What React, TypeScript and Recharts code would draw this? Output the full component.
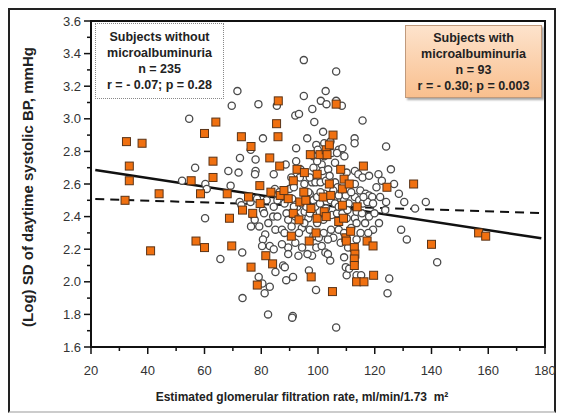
import React from "react";
import { ScatterChart, Scatter, XAxis, YAxis, ReferenceLine } from "recharts";

// eGFR (x) and log SD of daytime SBP (y)
const withoutMicro: [number, number][] = [
  [95, 3.36], [106.4, 3.29], [71.6, 3.17], [102.7, 3.17], [95, 3.14], [69.6, 3.08], [79, 3.09],
  [85.5, 3.08], [101, 3.11], [103, 3.09], [106.4, 3.11], [108.4, 3.08], [98, 3.06], [92, 3.02],
  [93.3, 3.03], [54.6, 3.0], [98.7, 2.98], [115.7, 2.99], [80.6, 2.88], [96.2, 2.88], [101.8, 2.92],
  [112.9, 2.88], [112.9, 2.85], [92.3, 2.82], [99.4, 2.84], [99.9, 2.81], [104.4, 2.86], [107.3, 2.81],
  [124, 2.83], [72.5, 2.76], [76.3, 2.81], [78, 2.75], [92.3, 2.74], [109.3, 2.77], [56.7, 2.7],
  [68.4, 2.68], [72, 2.67], [78, 2.68], [77.8, 2.66], [84.4, 2.66], [88.6, 2.72], [90.6, 2.64],
  [93.8, 2.69], [98.4, 2.7], [101.3, 2.72], [101.6, 2.68], [103.6, 2.69], [106, 2.73], [110.1, 2.67],
  [113, 2.68], [114.2, 2.66], [115.7, 2.64], [118, 2.65], [121.3, 2.66], [125.7, 2.69], [52.1, 2.62],
  [60.3, 2.6], [60.8, 2.57], [69.2, 2.59], [84.8, 2.57], [86.4, 2.55], [89.9, 2.57], [93.6, 2.64],
  [95.2, 2.6], [97.9, 2.61], [99.1, 2.61], [100.9, 2.61], [106, 2.61], [106.9, 2.58], [113, 2.6],
  [114.9, 2.56], [116.8, 2.54], [118, 2.53], [119.1, 2.52], [126.8, 2.6], [128.5, 2.54], [130.4, 2.49],
  [138, 2.49], [134.2, 2.45], [72.4, 2.49], [73, 2.47], [76.2, 2.49], [78.5, 2.51], [80.6, 2.44],
  [84.4, 2.46], [88.2, 2.48], [90.9, 2.51], [92.7, 2.46], [94.3, 2.48], [97.1, 2.54], [98.4, 2.5],
  [99, 2.46], [100.7, 2.48], [102.2, 2.54], [104.5, 2.5], [106, 2.48], [108, 2.51], [109.2, 2.5],
  [110.8, 2.48], [113, 2.52], [114.5, 2.5], [115.8, 2.48], [117.4, 2.49], [119.4, 2.48], [124, 2.49],
  [123.7, 2.44], [60.2, 2.39], [77, 2.41], [77.7, 2.38], [76.4, 2.34], [81, 2.42], [84.2, 2.4],
  [88.9, 2.42], [92.1, 2.4], [95.3, 2.43], [96.6, 2.39], [98.2, 2.42], [99.7, 2.36], [101.9, 2.38],
  [104.8, 2.41], [106.7, 2.42], [108.6, 2.42], [110.1, 2.39], [113, 2.39], [116.6, 2.36], [121.5, 2.36],
  [119.4, 2.32], [117.7, 2.3], [115, 2.3], [111.7, 2.33], [129.3, 2.32], [131.3, 2.26], [85, 2.32],
  [87.3, 2.32], [88.2, 2.3], [94.3, 2.33], [90.7, 2.34], [97.1, 2.32], [102, 2.3], [104.6, 2.32],
  [105.4, 2.27], [81.4, 2.29], [80.6, 2.26], [80.3, 2.22], [83, 2.22], [84.4, 2.2], [89.5, 2.21],
  [92, 2.24], [89.5, 2.17], [93.1, 2.16], [97.9, 2.16], [99.4, 2.21], [101.3, 2.22], [102.6, 2.18],
  [103.5, 2.17], [104.3, 2.13], [108, 2.24], [110.6, 2.21], [109.2, 2.15], [65.6, 2.14], [73.3, 2.18],
  [87.7, 2.1], [88.3, 2.09], [85, 2.06], [79.1, 2.03], [80.4, 1.99], [81.2, 1.93], [83, 1.97],
  [88.8, 2.01], [91.2, 2.03], [96.8, 2.07], [99.3, 1.95], [109.8, 2.09], [110.1, 2.04], [111, 2.08],
  [113.6, 2.04], [115.2, 2.04], [125.1, 2.02], [124.5, 1.93], [142, 2.12], [73.4, 1.9], [82.4, 1.8],
  [91.1, 1.79], [90.9, 1.78], [106.4, 1.72], [91.5, 2.58], [96.6, 2.55], [99.7, 2.52], [100.9, 2.55],
  [102.8, 2.62], [104.1, 2.65], [105.4, 2.56], [107.3, 2.53], [109.8, 2.53], [111.7, 2.55], [113.6, 2.43],
  [115.5, 2.42], [118, 2.4], [119.9, 2.42], [121.9, 2.52], [120.6, 2.58], [98.4, 2.77], [99.7, 2.74],
  [102.2, 2.77], [104.8, 2.79], [106.7, 2.79], [97.1, 2.64], [95.2, 2.36], [93.3, 2.3], [98.4, 2.28],
  [100.3, 2.27], [103.5, 2.26], [107.3, 2.32], [109.2, 2.3], [113.6, 2.26], [94.4, 2.21], [96.3, 2.17],
  [87.3, 2.23], [85.7, 2.4], [82.5, 2.36], [89.5, 2.38], [91.5, 2.46], [95.9, 2.46], [97.1, 2.42],
  [102.8, 2.45], [107.3, 2.46], [110.4, 2.44], [116, 2.52], [122.5, 2.62], [79.3, 2.34], [81.9, 2.5],
  [85.7, 2.5], [113.6, 2.36], [108.6, 2.82], [102.2, 2.85],
];

const withMicro: [number, number][] = [
  [32.5, 2.86], [38, 2.85], [33.5, 2.71], [33.5, 2.62], [32, 2.5], [44, 2.54], [41, 2.19],
  [55.3, 2.62], [58.6, 2.54], [60, 2.91], [64, 2.98], [63, 2.74], [63, 2.64], [68, 2.54], [57, 2.25],
  [60, 2.21], [68.8, 2.39], [69.6, 2.22], [73, 2.89], [76.4, 2.83], [75.5, 2.52], [73.4, 2.44],
  [77, 2.42], [79.5, 2.59], [79.6, 2.48], [76.4, 2.09], [78.6, 1.98], [81.6, 2.16], [83, 2.76],
  [83.4, 2.55], [84, 2.11], [85.4, 2.97], [86, 3.11], [85.9, 2.89], [86.5, 2.71], [86.7, 2.53],
  [89.5, 2.51], [90.6, 2.28], [91.3, 2.62], [91.3, 2.42], [92.6, 2.69], [93.6, 2.49], [95, 2.55],
  [95.2, 2.67], [95.7, 2.5], [96.9, 2.25], [97.3, 2.78], [97.6, 2.03], [99.3, 2.3], [99.7, 2.66],
  [99.7, 2.39], [100.7, 2.78], [101.8, 2.52], [102.2, 2.43], [102.9, 2.81], [103.2, 2.78], [104, 2.84],
  [104, 2.6], [102.9, 2.4], [105.3, 2.9], [106.4, 3.09], [105.1, 1.94], [107.3, 2.37], [108, 2.69],
  [108.6, 2.57], [109.2, 2.63], [109, 2.39], [109.8, 2.27], [111, 2.6], [110, 2.25], [112.8, 2.21],
  [113, 2.17], [112.8, 2.14], [112.8, 2.1], [113.8, 2.46], [113.6, 2.0], [116.2, 2.0], [116, 2.71],
  [117.3, 2.25], [119.4, 2.22], [119.6, 2.04], [124.3, 2.58], [133.7, 2.6], [140, 2.23], [156.6, 2.3],
  [159.1, 2.28], [108.6, 2.47], [93.3, 2.38], [88, 2.56], [104.5, 2.53], [97.5, 2.45], [111.5, 2.31],
];

const fitWith = [{ x: 21.5, y: 2.686 }, { x: 178.7, y: 2.267 }];
const fitWithout = [{ x: 21.5, y: 2.508 }, { x: 179, y: 2.422 }];

const xTicks = [20, 30, 40, 50, 60, 70, 80, 90, 100, 110, 120, 130, 140, 150, 160, 170, 180];
const yTicks = [1.6, 1.7, 1.8, 1.9, 2.0, 2.1, 2.2, 2.3, 2.4, 2.5, 2.6, 2.7, 2.8, 2.9, 3.0, 3.1, 3.2, 3.3, 3.4, 3.5, 3.6];

const font = "'Liberation Sans', Arial, sans-serif";

const toPts = (arr: [number, number][]) => arr.map(([x, y]) => ({ x, y }));

function XTick({ x, y, payload }: any) {
  const major = payload.value % 20 === 0;
  return (
    <g>
      <line x1={x} x2={x} y1={y} y2={y + (major ? 7 : 4)} stroke="#111" strokeWidth={1.5} />
      {major && (
        <text x={x} y={y + 28} textAnchor="middle" fontSize={13} fill="#333" fontFamily={font}>
          {payload.value}
        </text>
      )}
    </g>
  );
}

function YTick({ x, y, payload }: any) {
  const v = Math.round(payload.value * 10);
  const major = v % 2 === 0;
  return (
    <g>
      <line x1={x} x2={x - (major ? 7 : 4)} y1={y} y2={y} stroke="#111" strokeWidth={1.5} />
      {major && (
        <text x={x - 10} y={y + 4.5} textAnchor="end" fontSize={13} fill="#333" fontFamily={font}>
          {(v / 10).toFixed(1)}
        </text>
      )}
    </g>
  );
}

const Circle = (p: any) => (
  <circle cx={p.cx} cy={p.cy} r={3.6} fill="#fff" stroke="#4a4a4a" strokeWidth={1.3} />
);
const Square = (p: any) => (
  <rect x={p.cx - 4} y={p.cy - 4} width={8} height={8} fill="#f07010" stroke="#5a3418" strokeWidth={1} />
);

const boxText: React.CSSProperties = {
  position: "absolute",
  fontFamily: font,
  fontWeight: "bold",
  fontSize: 12.5,
  lineHeight: "16px",
  textAlign: "center",
  color: "#222",
  boxSizing: "border-box",
};

export default function App() {
  return (
    <div
      style={{
        position: "relative",
        width: 548,
        height: 405,
        border: "2px solid #222",
        borderBottomColor: "#ccc",
        boxSizing: "border-box",
        background: "#fff",
        fontFamily: font,
      }}
    >
      <ScatterChart width={560} height={401} margin={{ top: 11, right: 25, bottom: 34, left: 0 }}>
        <XAxis
          type="number"
          dataKey="x"
          domain={[20, 180]}
          ticks={xTicks}
          interval={0}
          tick={<XTick />}
          tickSize={0}
          tickMargin={0}
          tickLine={false}
          axisLine={{ stroke: "#111", strokeWidth: 2 }}
          height={30}
          allowDataOverflow
        />
        <YAxis
          type="number"
          dataKey="y"
          domain={[1.6, 3.6]}
          ticks={yTicks}
          interval={0}
          tick={<YTick />}
          tickSize={0}
          tickMargin={0}
          tickLine={false}
          axisLine={{ stroke: "#111", strokeWidth: 2 }}
          width={81}
          allowDataOverflow
        />
        <Scatter data={toPts(withoutMicro)} shape={Circle} isAnimationActive={false} />
        <Scatter data={toPts(withMicro)} shape={Square} isAnimationActive={false} />
        <ReferenceLine segment={fitWithout} stroke="#111" strokeWidth={2} strokeDasharray="9 6" />
        <ReferenceLine segment={fitWith} stroke="#111" strokeWidth={2.5} />
      </ScatterChart>

      {/* plot frame */}
      <div
        style={{
          position: "absolute",
          left: 80,
          top: 10,
          width: 456,
          height: 328,
          border: "2px solid #111",
          boxSizing: "border-box",
          pointerEvents: "none",
        }}
      />

      <div
        style={{
          ...boxText,
          left: 85,
          top: 13,
          width: 129,
          height: 76,
          border: "1.5px dotted #888",
          background: "#fff",
          paddingTop: 5,
        }}
      >
        Subjects without
        <br />
        microalbuminuria
        <br />
        n = 235
        <br />
        r = - 0.07; p = 0.28
      </div>

      <div
        style={{
          ...boxText,
          left: 395,
          top: 15,
          width: 137,
          height: 73,
          border: "1px solid #c09a7c",
          background: "linear-gradient(#fde3cc, #f9bf8e)",
          boxShadow: "2px 2px 2px rgba(0,0,0,0.35)",
          paddingTop: 4,
        }}
      >
        Subjects with
        <br />
        microalbuminuria
        <br />
        n = 93
        <br />
        r = - 0.30; p = 0.003
      </div>

      <div
        style={{
          position: "absolute",
          left: 0,
          width: 544,
          top: 380,
          paddingLeft: 40,
          boxSizing: "border-box",
          textAlign: "center",
          fontWeight: "bold",
          fontSize: 12,
          color: "#222",
        }}
      >
        Estimated glomerular filtration rate, ml/min/1.73&nbsp; m²
      </div>

      <div
        style={{
          position: "absolute",
          left: 17,
          top: 177,
          width: 0,
          height: 0,
        }}
      >
        <div
          style={{
            position: "absolute",
            transform: "translate(-50%, -50%) rotate(-90deg)",
            whiteSpace: "nowrap",
            fontWeight: "bold",
            fontSize: 15,
            color: "#222",
          }}
        >
          (Log) SD of daytime systolic BP, mmHg
        </div>
      </div>
    </div>
  );
}
